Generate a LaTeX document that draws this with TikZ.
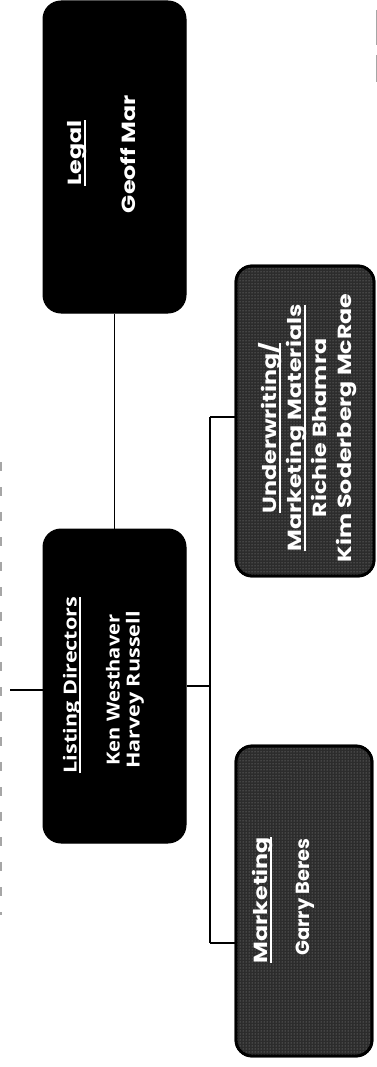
\documentclass[tikz,border=0pt]{standalone}
\usepackage{fontspec}
\usetikzlibrary{patterns}
\newfontfamily\geo{Poppins}[FakeStretch=1.25]
\newfontfamily\hum{Open Sans}[FakeStretch=1.2]
\definecolor{boxgray}{RGB}{44,44,44}
\newcommand\myul[1]{\setbox0\hbox{#1}\rlap{\rule[-4.5pt]{\wd0}{2pt}}\box0}
\begin{document}
\begin{tikzpicture}[x=1pt,y=-1pt,
  blackbox/.style={rectangle, draw=black, fill=black, line width=1pt, rounded corners=18pt, inner sep=0pt},
  graybox/.style={rectangle, draw=black, fill=boxgray, line width=2.8pt, rounded corners=16pt, inner sep=0pt,
     postaction={pattern=dots, pattern color=white!60!black},
     postaction={draw=black, line width=2.8pt}},
  wtext/.style={text=white, rotate=90, inner sep=0pt, align=center},
  geotext/.style={wtext, font=\geo\bfseries\fontsize{19}{25}\selectfont},
  humtext/.style={wtext, font=\hum\bfseries\fontsize{18}{20}\selectfont},
  link/.style={draw=black, line width=1.6pt},
  faint/.style={draw=black!35, line width=1.2pt}]
\useasboundingbox (0,0) rectangle (377,1067);
% boxes
\node[blackbox, minimum width=143pt, minimum height=312pt] (legal) at (114.5,157) {};
\node[blackbox, minimum width=143pt, minimum height=314pt] (ld) at (114.5,686) {};
\node[graybox, minimum width=138pt, minimum height=310pt] (uw) at (305,421) {};
\node[graybox, minimum width=136pt, minimum height=310pt] (mk) at (304,901) {};
% texts
\node[geotext] (legalT) at (77,153) {\myul{Legal}};
\node[geotext] (legalN) at (128,154) {Geoff Mar};
\node[humtext] (ldT) at (72,685) {\myul{Listing Directors}};
\node[humtext] (ldN) at (125,690) {\scalebox{0.93}[1]{Ken Westhaver}\\Harvey Russell};
\node[geotext] (uwT) at (307.5,428) {\myul{Underwriting/}\\\myul{Marketing Materials}\\Richie Bhamra\\Kim Soderberg McRae};
\node[geotext] (mkT) at (262,900) {\myul{Marketing}};
\node[geotext] (mkN) at (305,897) {\scalebox{0.82}[1]{Garry Beres}};
% connectors
\coordinate (bus) at (210,686);
\coordinate (bt) at (210,417);
\coordinate (bb) at (210,943);
\coordinate (stub) at (10,690);
\draw[link] (legal.south) -- (ld.north);
\draw[link] (ld.east |- bus) -- (bus);
\draw[link] (bt) -- (bb);
\draw[link] (bt) -- (bt -| uw.west);
\draw[link] (bb) -- (bb -| mk.west);
\draw[link, line width=2pt] (stub) -- (stub -| ld.west);
% faint edge marks
\coordinate (fl1) at (1,462);
\coordinate (fl2) at (1,915);
\coordinate (fr1) at (376,10);
\coordinate (fr2) at (376,82);
\draw[faint, dash pattern=on 9pt off 16pt] (fl1) -- (fl2);
\draw[faint, line width=1pt, dash pattern=on 35pt off 10pt] (fr1) -- (fr2);
\end{tikzpicture}
\end{document}
